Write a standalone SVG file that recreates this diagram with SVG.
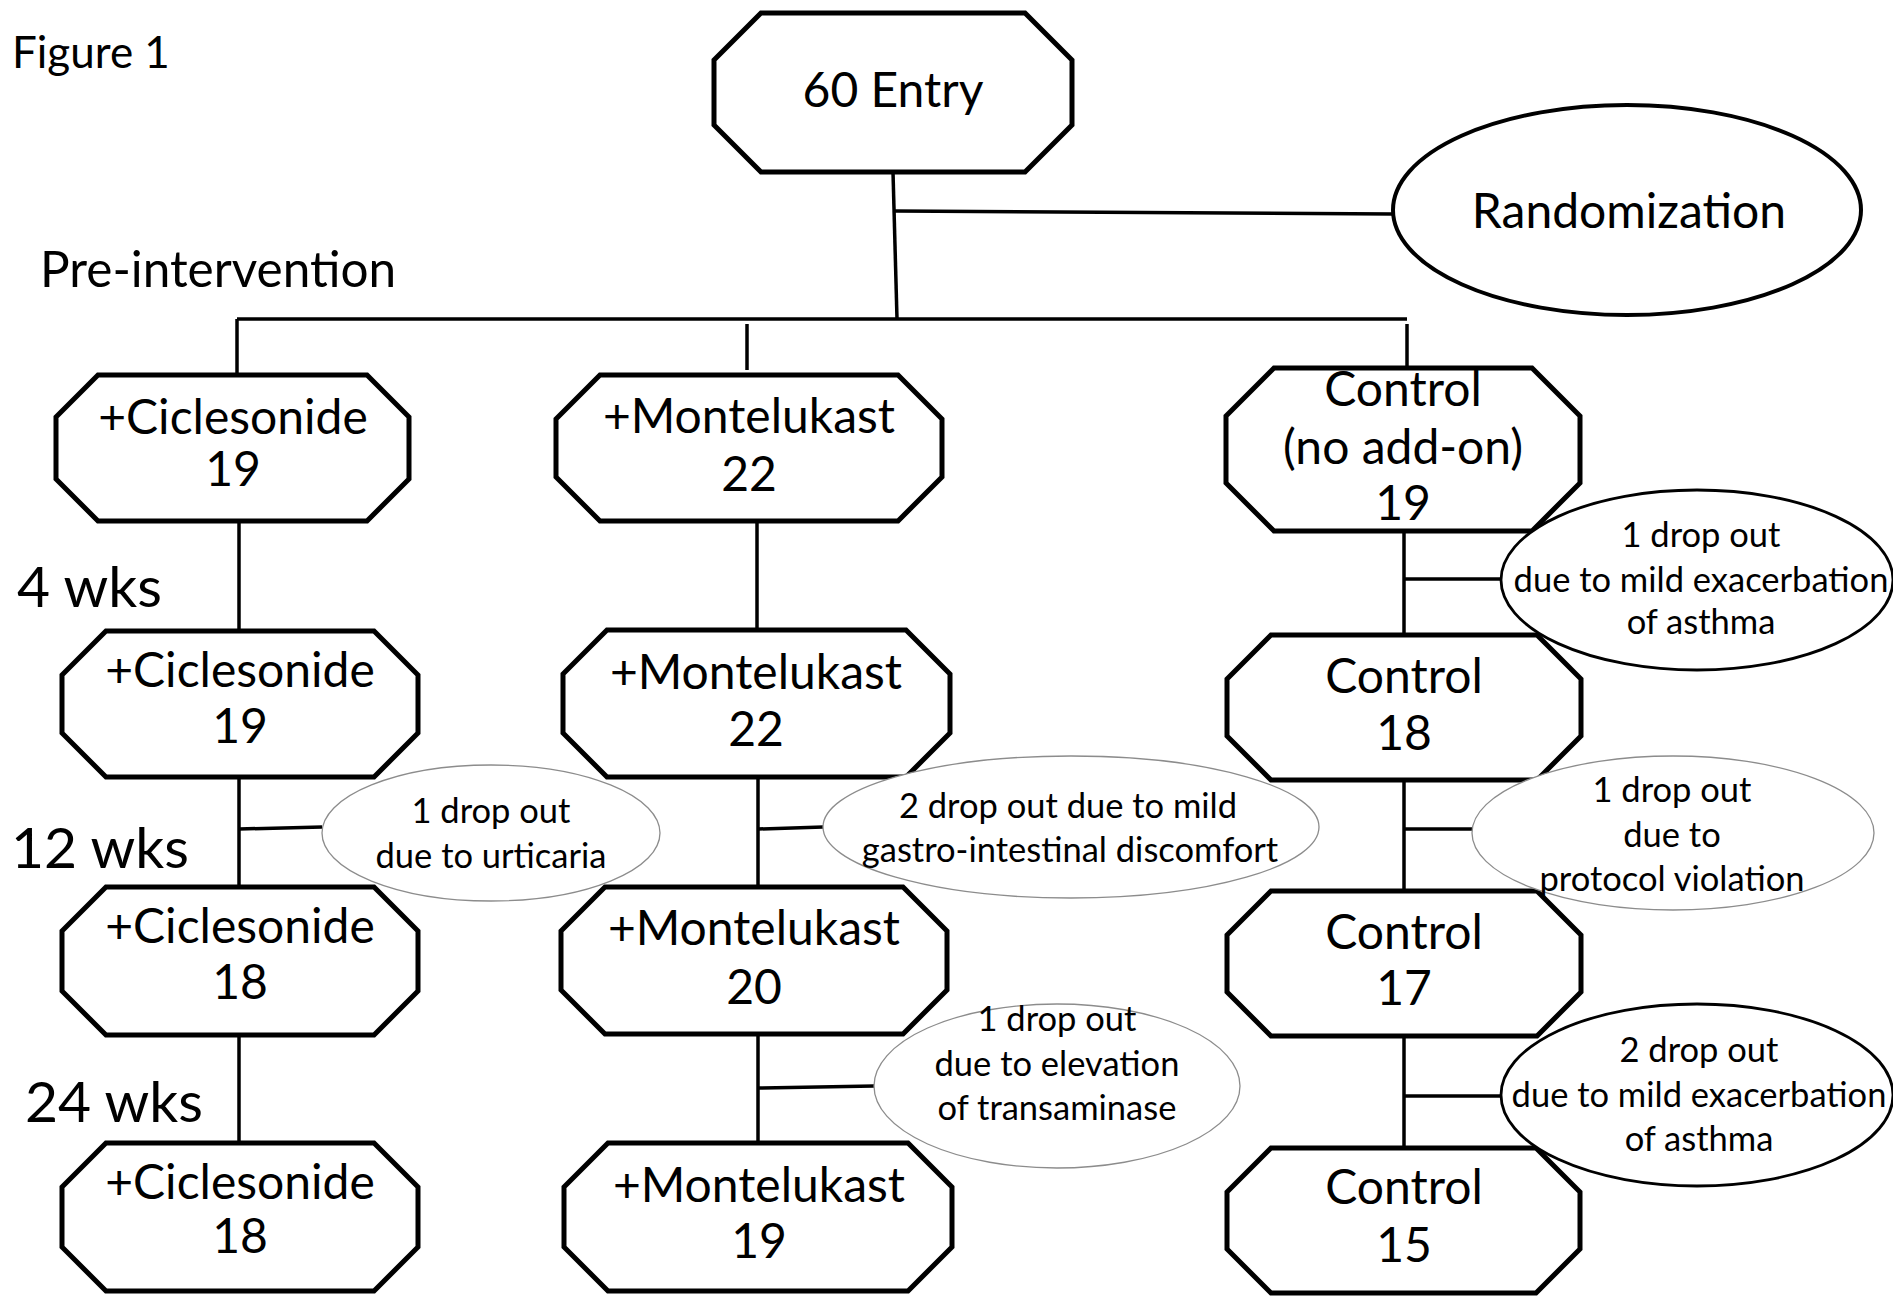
<svg xmlns="http://www.w3.org/2000/svg" width="1893" height="1297" viewBox="0 0 1893 1297">
<style>
.box{fill:#fff;stroke:#000;stroke-width:5;stroke-linejoin:miter}
.conn{stroke:#000;stroke-width:3.5;fill:none}
.t{font-family:Lato,"Liberation Sans",sans-serif;fill:#000}
.big{font-size:48px;text-anchor:middle}
.lab{font-size:57px}
.sm{font-size:34.5px;text-anchor:middle}
.gray{fill:#fff;stroke:#8c8c8c;stroke-width:1.3}
.blk{fill:#fff;stroke:#000;stroke-width:2.8}
</style>
<rect width="1893" height="1297" fill="#fff"/>
<text class="t" x="12" y="68" font-size="44">Figure 1</text>
<text class="t" x="40" y="287" font-size="49.5">Pre-intervention</text>
<text class="t lab" x="17" y="607">4 wks</text>
<text class="t lab" x="11" y="868">12 wks</text>
<text class="t lab" x="25" y="1122">24 wks</text>
<g id="connectors">
<line class="conn" x1="893" y1="172" x2="897" y2="319"/>
<line class="conn" x1="895" y1="211" x2="1393" y2="214"/>
<line class="conn" x1="237" y1="319" x2="1407" y2="319"/>
<line class="conn" x1="237" y1="319" x2="237" y2="375"/>
<line class="conn" x1="747" y1="324" x2="747" y2="370"/>
<line class="conn" x1="1407" y1="324" x2="1407" y2="368"/>
<line class="conn" x1="239" y1="521" x2="239" y2="631"/>
<line class="conn" x1="239" y1="777" x2="239" y2="887"/>
<line class="conn" x1="239" y1="1035" x2="239" y2="1143"/>
<line class="conn" x1="757" y1="521" x2="757" y2="630"/>
<line class="conn" x1="758" y1="777" x2="758" y2="887"/>
<line class="conn" x1="758" y1="1034" x2="758" y2="1143"/>
<line class="conn" x1="1404" y1="528" x2="1404" y2="635"/>
<line class="conn" x1="1404" y1="780" x2="1404" y2="891"/>
<line class="conn" x1="1404" y1="1036" x2="1404" y2="1148"/>
<line class="conn" x1="1404" y1="579" x2="1502" y2="579"/>
<line class="conn" x1="239" y1="829" x2="322" y2="827"/>
<line class="conn" x1="758" y1="829" x2="823" y2="827"/>
<line class="conn" x1="1404" y1="829" x2="1472" y2="829"/>
<line class="conn" x1="758" y1="1088" x2="874" y2="1086"/>
<line class="conn" x1="1404" y1="1096" x2="1500" y2="1096"/>
</g>
<g id="entry"><polygon class="box" points="761,13 1025,13 1072,60 1072,125 1025,172 761,172 714,125 714,60"/><text class="t big" x="893" y="107">60 Entry</text></g>
<g id="randomization"><ellipse cx="1627" cy="210" rx="234" ry="105" fill="#fff" stroke="#000" stroke-width="4"/><text class="t big" x="1629" y="228" font-size="50">Randomization</text></g>
<g id="cic1"><polygon class="box" points="98,375 367,375 409,417 409,479 367,521 98,521 56,479 56,417"/><text class="t big" x="233" y="434">+Ciclesonide</text><text class="t big" x="233" y="486">19</text></g>
<g id="mont1"><polygon class="box" points="600,375 898,375 942,419 942,477 898,521 600,521 556,477 556,419"/><text class="t big" x="749" y="433">+Montelukast</text><text class="t big" x="749" y="491">22</text></g>
<g id="ctrl1"><polygon class="box" points="1274,368 1532,368 1580,416 1580,483 1532,531 1274,531 1226,483 1226,416"/><text class="t big" x="1403" y="406">Control</text><text class="t big" x="1403" y="464">(no add-on)</text><text class="t big" x="1403" y="520">19</text></g>
<g id="cic2"><polygon class="box" points="106,631 374,631 418,675 418,733 374,777 106,777 62,733 62,675"/><text class="t big" x="240" y="687">+Ciclesonide</text><text class="t big" x="240" y="743">19</text></g>
<g id="mont2"><polygon class="box" points="607,630 906,630 950,674 950,733 906,777 607,777 563,733 563,674"/><text class="t big" x="756" y="689">+Montelukast</text><text class="t big" x="756" y="746">22</text></g>
<g id="ctrl2"><polygon class="box" points="1271,635 1537,635 1581,679 1581,736 1537,780 1271,780 1227,736 1227,679"/><text class="t big" x="1404" y="693">Control</text><text class="t big" x="1404" y="750">18</text></g>
<g id="cic3"><polygon class="box" points="106,887 374,887 418,931 418,991 374,1035 106,1035 62,991 62,931"/><text class="t big" x="240" y="943">+Ciclesonide</text><text class="t big" x="240" y="999">18</text></g>
<g id="mont3"><polygon class="box" points="605,887 903,887 947,931 947,990 903,1034 605,1034 561,990 561,931"/><text class="t big" x="754" y="945">+Montelukast</text><text class="t big" x="754" y="1004">20</text></g>
<g id="ctrl3"><polygon class="box" points="1271,891 1537,891 1581,935 1581,992 1537,1036 1271,1036 1227,992 1227,935"/><text class="t big" x="1404" y="949">Control</text><text class="t big" x="1404" y="1005">17</text></g>
<g id="cic4"><polygon class="box" points="106,1143 374,1143 418,1187 418,1247 374,1291 106,1291 62,1247 62,1187"/><text class="t big" x="240" y="1199">+Ciclesonide</text><text class="t big" x="240" y="1253">18</text></g>
<g id="mont4"><polygon class="box" points="608,1143 908,1143 952,1187 952,1247 908,1291 608,1291 564,1247 564,1187"/><text class="t big" x="759" y="1202">+Montelukast</text><text class="t big" x="759" y="1258">19</text></g>
<g id="ctrl4"><polygon class="box" points="1271,1148 1536,1148 1580,1192 1580,1249 1536,1293 1271,1293 1227,1249 1227,1192"/><text class="t big" x="1404" y="1204">Control</text><text class="t big" x="1404" y="1262">15</text></g>
<g id="drop-ctrl1"><ellipse class="blk" cx="1697" cy="580" rx="196" ry="90"/><text class="t sm" x="1701" y="547">1 drop out</text><text class="t sm" x="1701" y="592">due to mild exacerbation</text><text class="t sm" x="1701" y="634">of asthma</text></g>
<g id="drop-cic"><ellipse class="gray" cx="491" cy="833" rx="169" ry="68"/><text class="t sm" x="491" y="823">1 drop out</text><text class="t sm" x="491" y="868">due to urticaria</text></g>
<g id="drop-mont1"><ellipse class="gray" cx="1071" cy="827" rx="248" ry="71"/><text class="t sm" x="1068" y="818">2 drop out due to mild</text><text class="t sm" x="1070" y="862">gastro-intestinal discomfort</text></g>
<g id="drop-ctrl2"><ellipse class="gray" cx="1673" cy="833" rx="201" ry="77"/><text class="t sm" x="1672" y="802">1 drop out</text><text class="t sm" x="1672" y="847">due to</text><text class="t sm" x="1672" y="891">protocol violation</text></g>
<g id="drop-mont2"><ellipse class="gray" cx="1057" cy="1086" rx="183" ry="82"/><text class="t sm" x="1057" y="1031">1 drop out</text><text class="t sm" x="1057" y="1076">due to elevation</text><text class="t sm" x="1057" y="1120">of transaminase</text></g>
<g id="drop-ctrl3"><ellipse class="blk" cx="1697" cy="1095" rx="196" ry="91"/><text class="t sm" x="1699" y="1062">2 drop out</text><text class="t sm" x="1699" y="1107">due to mild exacerbation</text><text class="t sm" x="1699" y="1151">of asthma</text></g>
</svg>
